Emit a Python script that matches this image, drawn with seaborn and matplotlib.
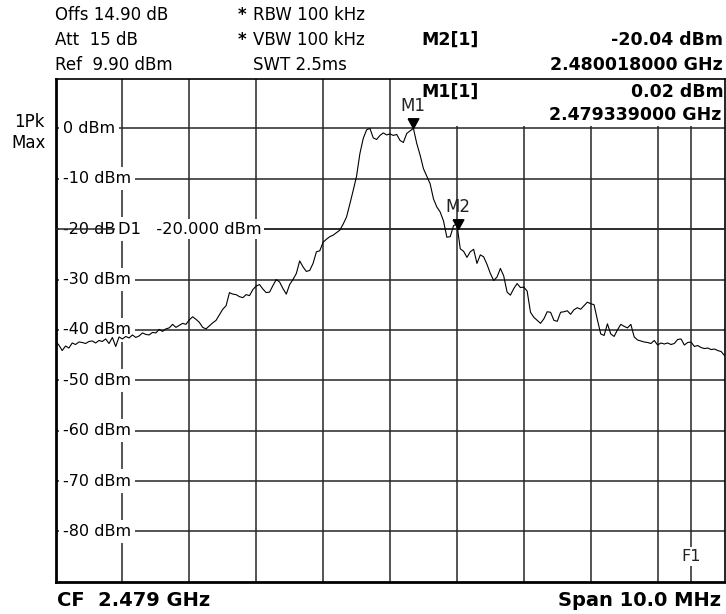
import matplotlib

matplotlib.use("Agg")

import matplotlib.pyplot as plt
import numpy as np
import pandas as pd
import seaborn as sns
from matplotlib.patches import Rectangle


CENTER_GHZ = 2.479
SPAN_MHZ = 10.0
REF_DBM = 9.90
STEP_MHZ = 0.05

# trace level every 0.05 MHz, from CF - 5 MHz to CF + 5 MHz
LEVEL_DBM = [
    -42.2, -43.0, -44.1, -43.2, -43.6, -42.6, -42.9, -42.4, -42.5, -42.7,
    -42.3, -42.2, -42.6, -42.1, -42.3, -41.8, -42.7, -41.5, -43.3, -41.4,
    -41.8, -41.3, -41.6, -41.0, -41.5, -41.2, -40.6, -40.9, -41.0, -40.5,
    -40.6, -39.9, -40.3, -39.8, -39.6, -38.9, -39.5, -39.1, -38.7, -38.9,
    -38.0, -37.4, -37.9, -38.5, -39.5, -39.8, -39.2, -38.6, -38.1, -37.0,
    -35.9, -35.2, -32.6, -32.9, -33.0, -33.4, -33.6, -33.0, -33.2, -32.0,
    -31.3, -31.0, -31.9, -32.6, -32.5, -31.2, -30.0, -30.5, -31.8, -32.9,
    -31.0, -30.0, -28.8, -26.3, -27.5, -28.4, -28.2, -26.8, -24.5, -24.3,
    -22.6, -22.0, -21.5, -21.2, -20.7, -20.2, -19.0, -17.6, -15.0, -12.3,
    -9.5, -5.0, -2.0, -0.3, 0.0, -1.9, -2.2, -1.4, -0.9, -1.3,
    -1.1, -1.4, -1.2, -2.4, -2.8, -1.0, -0.5, 0.0, -3.0, -5.3,
    -8.0, -9.5, -11.0, -14.0, -15.6, -16.6, -18.4, -21.6, -21.5, -19.3,
    -19.0, -23.9, -24.4, -25.6, -24.5, -24.0, -26.8, -25.1, -25.5, -27.0,
    -28.8, -30.2, -29.5, -27.8, -29.3, -32.5, -33.1, -31.8, -30.8, -31.6,
    -31.5, -32.3, -36.5, -37.5, -38.1, -38.7, -37.8, -36.4, -36.5, -38.1,
    -38.3, -36.5, -36.4, -36.2, -36.9, -36.0, -35.6, -35.9, -35.2, -34.5,
    -34.8, -35.0, -38.0, -40.8, -41.1, -38.8, -40.8, -41.3, -40.0, -38.9,
    -39.3, -39.6, -38.9, -41.4, -42.0, -42.2, -42.4, -42.5, -42.7, -42.1,
    -43.0, -42.6, -42.8, -42.6, -42.9, -42.7, -41.9, -41.8, -43.0, -42.5,
    -42.4, -43.3, -43.1, -43.5, -43.7, -43.6, -43.9, -43.8, -44.1, -44.3,
    -45.1,
]

LEVEL_TICKS = [0, -10, -20, -30, -40, -50, -60, -70, -80]
MARKER_NAMES = ["M1", "M2"]
MARKER_GHZ = [2.479339, 2.480018]
MARKER_DBM = [0.02, -20.04]
D1_DBM = -20.0
F1_GHZ = 2.4835

GRID = "#262626"
W, H = 726, 614


def fig_xy(x, y):
    return x / W, 1 - y / H


def mhz(offset):
    # offset from the left edge of the span, in MHz -> GHz
    return start + offset / 1000


start = CENTER_GHZ - SPAN_MHZ / 2000
freq = start + np.arange(len(LEVEL_DBM)) * STEP_MHZ / 1000
frame = pd.DataFrame({"freq": freq, "level": LEVEL_DBM})

sns.set_theme(style="white")
plt.rcParams["font.family"] = ["DejaVu Sans"]
plt.rcParams["text.color"] = "black"

fig = plt.figure(figsize=(W / 100, H / 100), dpi=100)
ax = fig.add_axes([55.5 / W, 1 - 582.3 / H, 669 / W, 503.8 / H])

sns.lineplot(data=frame, x="freq", y="level", ax=ax, color="black", linewidth=0.8, zorder=6)

ax.set_xlim(start, start + SPAN_MHZ / 1000)
ax.set_ylim(REF_DBM - 100, REF_DBM)
ax.set_xticks(start + np.arange(1, 10) / 1000)
ax.set_yticks(LEVEL_TICKS)
ax.tick_params(length=0, labelbottom=False, labelleft=False)
ax.set_axisbelow(True)
ax.grid(True, color=GRID, linewidth=1.1)
ax.set_xlabel("")
ax.set_ylabel("")
for name, spine in ax.spines.items():
    spine.set_color("black")
    spine.set_linewidth(2.0 if name in ("left", "bottom") else 1.2)

for value in LEVEL_TICKS:
    ax.text(mhz(0.112), value, f"{value} dBm", ha="left", va="center", fontsize=11.5,
            bbox=dict(facecolor="white", edgecolor="none", pad=3.0), zorder=3)

# display line D1 and frequency line F1
ax.axhline(D1_DBM, color=GRID, linewidth=1.1, zorder=3.5)
ax.text(mhz(0.934), D1_DBM, "D1   -20.000 dBm", ha="left", va="center", fontsize=11.7,
        bbox=dict(facecolor="white", edgecolor="none", pad=2), zorder=4)
ax.axvline(F1_GHZ, color=GRID, linewidth=1.1, zorder=1)
ax.text(F1_GHZ, -85.0, "F1", ha="center", va="center", fontsize=11.5, color="#222222",
        bbox=dict(facecolor="white", edgecolor="none", pad=1.5), zorder=3)

# marker readout panel inside the grid
ax.add_patch(Rectangle((mhz(5.07), 0.5), 5 / 1000, 10, facecolor="white",
                       edgecolor="none", zorder=2.5))
bold = dict(fontsize=12.5, fontweight="bold", va="center", zorder=5)
ax.text(mhz(5.463), 7.2, "M1[1]", ha="left", **bold)
ax.text(mhz(9.99), 7.2, "0.02 dBm", ha="right", **bold)
ax.text(mhz(9.96), 2.66, "2.479339000 GHz", ha="right", **bold)

tip = [(-0.55, 1.0), (0.55, 1.0), (0.0, 0.0), (-0.55, 1.0)]
ax.plot(MARKER_GHZ, MARKER_DBM, linestyle="none", marker=tip, markersize=14,
        color="black", zorder=7)
for name, f, level in zip(MARKER_NAMES, MARKER_GHZ, MARKER_DBM):
    ax.annotate(name, (f, level), xytext=(0, 16), textcoords="offset points",
                ha="center", va="center", fontsize=12, color="#222222", zorder=7)

# instrument header
header = dict(fontsize=12, va="center", ha="left")
fig.text(*fig_xy(55, 15), "Offs 14.90 dB", **header)
fig.text(*fig_xy(55, 40), "Att  15 dB", **header)
fig.text(*fig_xy(55, 65), "Ref  9.90 dBm", **header)
fig.text(*fig_xy(238, 15), "*", fontweight="bold", **header)
fig.text(*fig_xy(253, 15), "RBW 100 kHz", **header)
fig.text(*fig_xy(238, 40), "*", fontweight="bold", **header)
fig.text(*fig_xy(253, 40), "VBW 100 kHz", **header)
fig.text(*fig_xy(253, 65), "SWT 2.5ms", **header)
fig.text(*fig_xy(421, 40), "M2[1]", fontsize=12.5, fontweight="bold", va="center", ha="left")
fig.text(*fig_xy(723, 40), "-20.04 dBm", fontsize=12.5, fontweight="bold", va="center", ha="right")
fig.text(*fig_xy(723, 65), "2.480018000 GHz", fontsize=12.5, fontweight="bold", va="center", ha="right")
fig.text(*fig_xy(29, 122), "1Pk", fontsize=12, va="center", ha="center")
fig.text(*fig_xy(29, 143), "Max", fontsize=12, va="center", ha="center")
fig.text(*fig_xy(57, 600), "CF  2.479 GHz", fontsize=14, fontweight="bold", va="center", ha="left")
fig.text(*fig_xy(721, 600), "Span 10.0 MHz", fontsize=14, fontweight="bold", va="center", ha="right")

fig.savefig("out.png", dpi=100)
plt.close(fig)
